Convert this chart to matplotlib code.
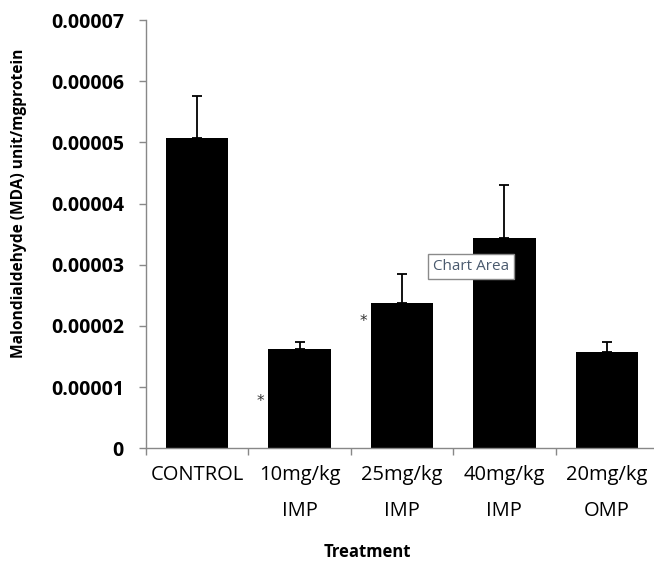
import matplotlib
matplotlib.use("Agg")
import matplotlib.pyplot as plt
import numpy as np

categories = ["CONTROL", "10mg/kg\nIMP", "25mg/kg\nIMP", "40mg/kg\nIMP", "20mg/kg\nOMP"]
means = [0.0000507, 0.0000163, 0.0000238, 0.0000344, 0.0000157]
errors = [0.0000068, 0.0000010, 0.0000047, 0.0000086, 0.0000016]
yticks = [0, 0.00001, 0.00002, 0.00003, 0.00004, 0.00005, 0.00006, 0.00007]
ytick_labels = ["0", "0.00001", "0.00002", "0.00003", "0.00004", "0.00005", "0.00006", "0.00007"]
star_cats = [1, 2]
star_vals = [0.0000077, 0.0000207]

fig = plt.figure(figsize=(6.54, 5.62), dpi=100)
ax = fig.add_axes([146/654, 1-448.3/562, (658-146)/654, (448.3-20)/562])

x = np.arange(len(categories))
ax.bar(x, means, width=0.61, color="black", zorder=2)
ax.errorbar(x, means, yerr=[np.zeros(len(errors)), errors], fmt="none",
            ecolor="black", elinewidth=1.3, capsize=3.5, capthick=1.3, zorder=3)

ax.set_xlim(-0.5, len(categories) - 0.5)
ax.set_ylim(0, 0.00007)
ax.set_yticks(yticks)
ax.set_yticklabels(ytick_labels, fontfamily="Open Sans", fontweight="bold", fontsize=14)
ax.set_xticks(x)
ax.set_xticklabels(categories, fontfamily="Open Sans", fontsize=14.5, linespacing=2.1)
ax.tick_params(axis="x", length=0, pad=12)
ax.set_xticks(np.arange(-0.5, len(categories), 1.0), minor=True)
ax.tick_params(axis="x", which="minor", length=5, color="#888888", width=1)
ax.tick_params(axis="y", length=5, color="#888888", width=1, pad=11)

for s in ["top", "right"]:
    ax.spines[s].set_visible(False)
for s in ["left", "bottom"]:
    ax.spines[s].set_color("#888888")
    ax.spines[s].set_linewidth(1)

ax.set_ylabel("Malondialdehyde (MDA) unit/mgprotein", fontfamily="Open Sans",
              fontweight="bold", fontsize=11.2)
ax.yaxis.set_label_coords(-0.232, 0.571)
ax.set_xlabel("Treatment", fontfamily="Open Sans", fontweight="bold", fontsize=12)
ax.xaxis.set_label_coords(0.432, -0.222)

for c, v in zip(star_cats, star_vals):
    ax.text(c - 0.38, v, "*", ha="center", va="center", fontsize=11, color="#333333",
            fontfamily="DejaVu Sans")

fig.text(471/654, 1-266.5/562, "Chart Area", ha="center", va="center",
         fontfamily="Open Sans", fontsize=11, color="#4a5a6e",
         bbox=dict(boxstyle="square,pad=0.35", facecolor="white", edgecolor="#8a8a8a", linewidth=1))

fig.savefig("out.png", dpi=100)
